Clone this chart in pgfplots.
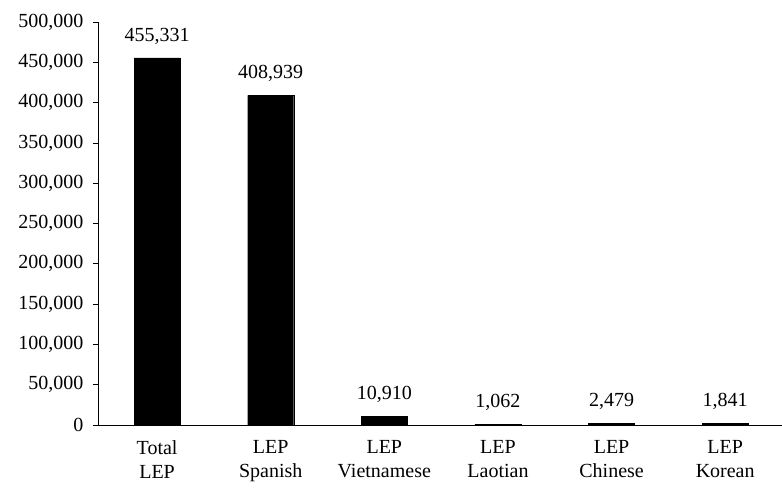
\documentclass[border=0pt]{standalone}
\usepackage{pgfplots}
\pgfplotsset{compat=1.18}
\usepackage{fontspec}
\setmainfont{Liberation Serif}
\begin{document}
\begin{tikzpicture}[x=1bp,y=1bp]
\begin{axis}[
  scale only axis,
  width=684bp, height=403bp,
  xmin=-0.52, xmax=5.5,
  ymin=0, ymax=500000,
  axis x line*=bottom, axis y line*=left,
  axis line style={-, line width=0.9bp},
  ybar, bar width=46bp,
  bar shift=0pt,
  xtick={0,1,2,3,4,5},
  xticklabels={{Total\\LEP},{LEP\\Spanish},{LEP\\Vietnamese},{LEP\\Laotian},{LEP\\Chinese},{LEP\\Korean}},
  xticklabel style={align=center, font=\fontsize{20bp}{24bp}\selectfont, yshift=-7bp},
  x tick style={draw=none},
  ytick={0,50000,100000,150000,200000,250000,300000,350000,400000,450000,500000},
  yticklabels={0,{50,000},{100,000},{150,000},{200,000},{250,000},{300,000},{350,000},{400,000},{450,000},{500,000}},
  scaled y ticks=false,
  yticklabel style={font=\fontsize{20bp}{22bp}\selectfont, xshift=-6bp},
  y tick style={line width=0.7bp, black},
  tick align=outside,
  major tick length=5bp,
  point meta=explicit symbolic,
  nodes near coords,
  every node near coord/.append style={font=\fontsize{20bp}{22bp}\selectfont, yshift=10bp},
  clip=false,
]
\addplot[fill=black, draw=black] coordinates {(0,455331) [455,331] (1,408939) [408,939] (2,10910) [10,910] (3,1062) [1,062] (4,2479) [2,479] (5,1841) [1,841]};
\end{axis}
\pgfresetboundingbox
\path (current axis.south west) ++(-98bp,-67bp) rectangle ++(782bp,492bp);
\end{tikzpicture}
\end{document}
